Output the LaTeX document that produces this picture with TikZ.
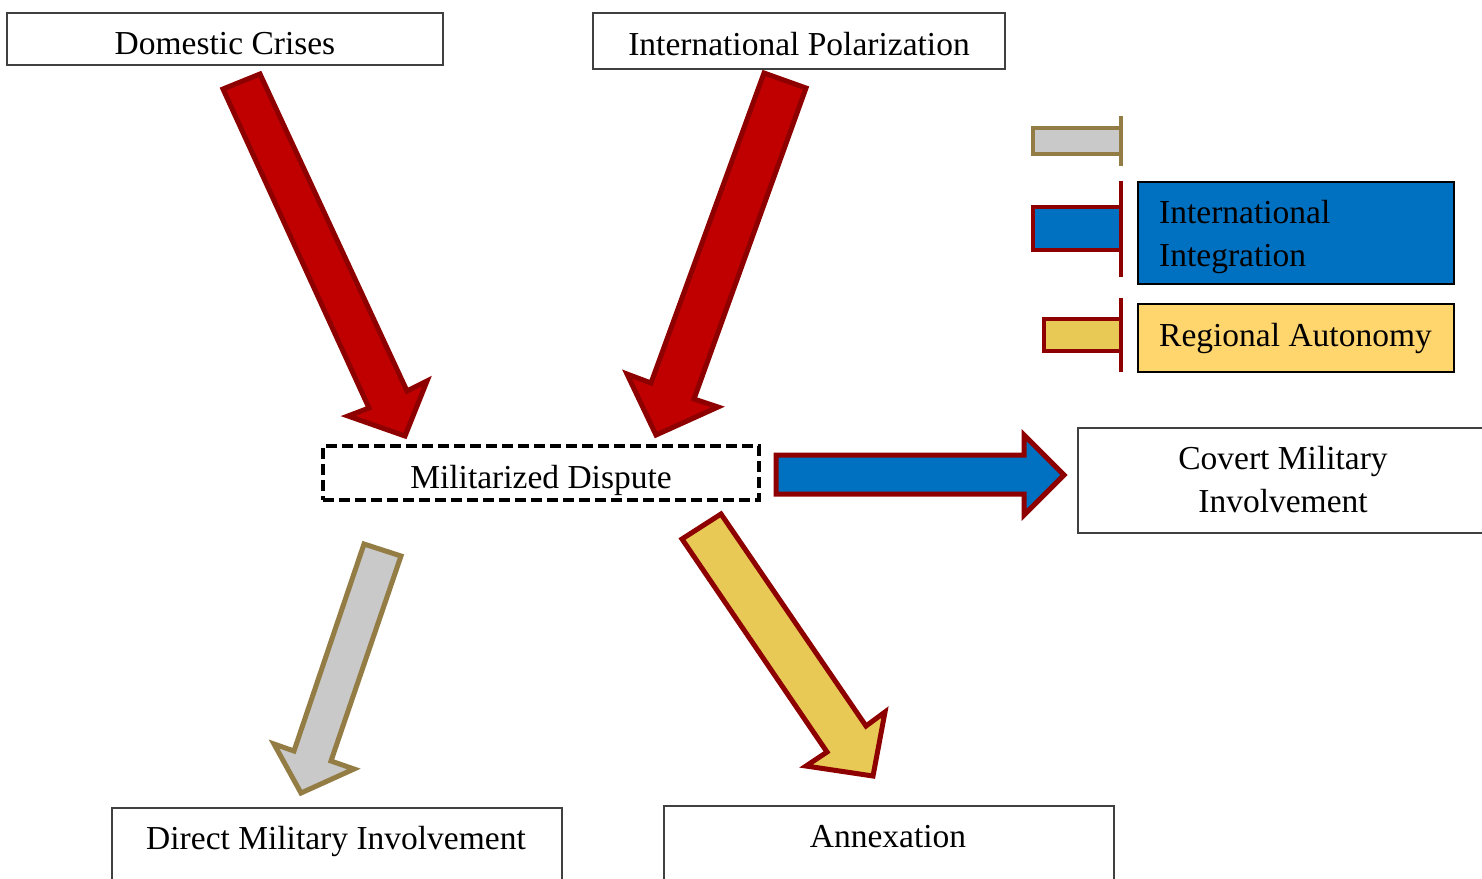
\documentclass[tikz,border=0pt]{standalone}
\usepackage{fontspec}
\setmainfont{Liberation Serif}
\definecolor{redfill}{HTML}{C00000}
\definecolor{redline}{HTML}{8E0000}
\definecolor{bluefill}{HTML}{0070C0}
\definecolor{grayfill}{HTML}{C9C9C9}
\definecolor{goldline}{HTML}{947D45}
\definecolor{yelfill}{HTML}{E9C955}
\definecolor{yelbox}{HTML}{FFD56E}
\definecolor{boxline}{HTML}{404040}
\tikzset{
  box/.style={draw=boxline, line width=1.5pt, fill=white, rectangle, inner sep=0pt},
  txt/.style={font=\fontsize{33.5}{43}\selectfont, inner sep=0pt, text=black},
  blockarrow/.style={line width=5pt, line join=miter},
  legbar/.style={line width=4.5pt, line join=miter},
  legtick/.style={line width=4.5pt},
}
\begin{document}
\begin{tikzpicture}[x=1pt,y=-1pt]
\useasboundingbox (0,0) rectangle (1482,878);
\clip (0,0) rectangle (1482,878);
\fill[white] (0,0) rectangle (1482,878);

% boxes
\node[box, minimum width=436, minimum height=52] (dc) at (225,39) {};
\node[txt] (dct) at (225,44) {Domestic Crises};
\node[box, minimum width=412, minimum height=56] (ip) at (799,41) {};
\node[txt] (ipt) at (799,44) {International Polarization};
\node[draw=black, line width=4pt, dash pattern=on 11pt off 5pt, rectangle, minimum width=436, minimum height=54, inner sep=0pt] (md) at (541,473) {};
\node[txt] (mdt) at (541,480) {Militarized Dispute};
\node[box, minimum width=412, minimum height=105, anchor=north west] (cmi) at (1077,427) {};
\node[txt, align=center] (cmit) at (1283,480) {Covert Military\\Involvement};
\node[box, minimum width=450, minimum height=120, anchor=north west] (dmi) at (111,807) {};
\node[txt] (dmit) at (336,841) {Direct Military Involvement};
\node[box, minimum width=450, minimum height=120, anchor=north west] (ann) at (663,805) {};
\node[txt] (annt) at (888,837) {Annexation};

% legend boxes
\node[draw=black, line width=2pt, fill=bluefill, minimum width=316, minimum height=102, anchor=north west, inner sep=0pt] (ii) at (1137,181) {};
\node[txt, align=left, anchor=west] (iit) at (1159,237) {International\\Integration};
\node[draw=black, line width=2pt, fill=yelbox, minimum width=316, minimum height=68, anchor=north west, inner sep=0pt] (ra) at (1137,303) {};
\node[txt, anchor=west] (rat) at (1159,338) {Regional Autonomy};

% legend bars
\draw[legbar, draw=goldline, fill=grayfill] (1121,128) -- (1033,128) -- (1033,154) -- (1121,154);
\draw[legtick, goldline] (1121,116) -- (1121,166);
\draw[legbar, draw=redline, fill=bluefill] (1121,207) -- (1033,207) -- (1033,250) -- (1121,250);
\draw[legtick, redline] (1121,181) -- (1121,277);
\draw[legbar, draw=redline, fill=yelfill] (1121,319) -- (1044,319) -- (1044,351) -- (1121,351);
\draw[legtick, redline] (1121,298) -- (1121,372);

% block arrows
\draw[blockarrow, draw=redline, fill=redfill] (223,89) -- (260,74) -- (407,391) -- (427,381) -- (405,436) -- (348,416) -- (369,408) -- cycle;
\draw[blockarrow, draw=redline, fill=redfill] (764,73) -- (806,88) -- (694,399) -- (718,407) -- (656,435) -- (627,374) -- (651,383) -- cycle;
\draw[blockarrow, draw=goldline, fill=grayfill] (364,544) -- (401,556) -- (331,761) -- (354,769) -- (301,793) -- (274,744) -- (294,751) -- cycle;
\draw[blockarrow, draw=redline, fill=yelfill] (682,539) -- (721,514) -- (866,726) -- (885,712) -- (873,776) -- (806,766) -- (827,752) -- cycle;
\draw[blockarrow, draw=redline, fill=bluefill] (776,455) -- (1024,455) -- (1024,435) -- (1064,475) -- (1024,515) -- (1024,494) -- (776,494) -- cycle;
\end{tikzpicture}
\end{document}
